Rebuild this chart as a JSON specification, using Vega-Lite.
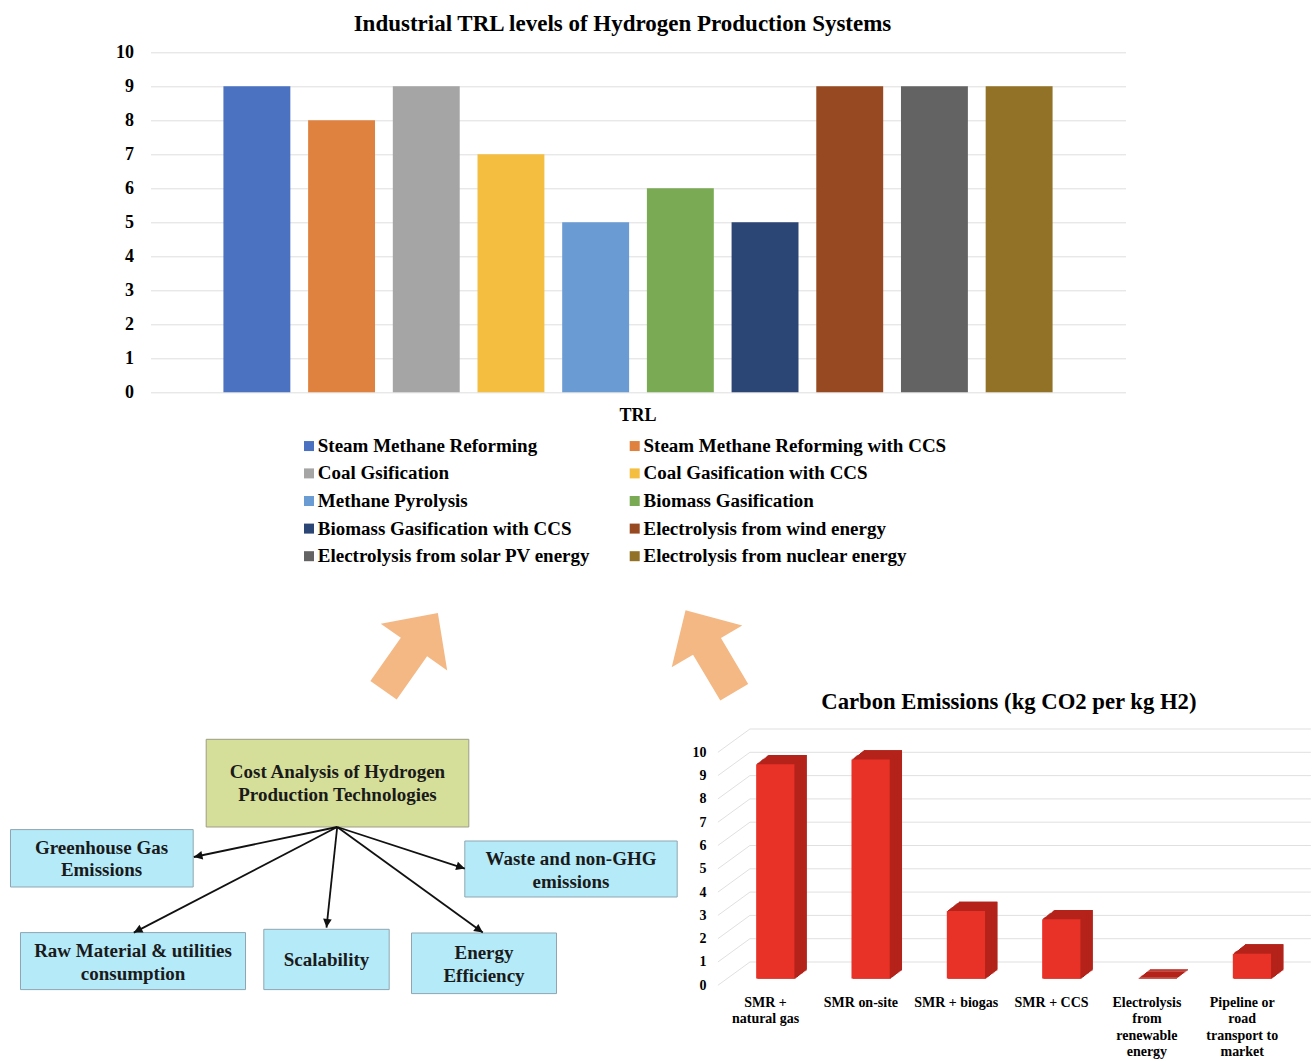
{
  "$schema": "https://vega.github.io/schema/vega-lite/v6.json",
  "background": "white",
  "padding": {"left": 9.5, "top": 12.3, "right": 0, "bottom": 0},
  "autosize": {"type": "pad"},
  "bounds": "flush",
  "spacing": 360,
  "config": {
    "font": "Liberation Serif",
    "view": {"stroke": null},
    "axis": {"labelFont": "Liberation Serif", "labelFontWeight": "bold", "labelColor": "#000000", "labelOverlap": false},
    "title": {"font": "Liberation Serif", "fontWeight": "bold", "color": "#000000"}
  },
  "vconcat": [
    {
      "width": 975,
      "height": 340,
      "title": {"text": "Industrial TRL levels of Hydrogen Production Systems", "fontSize": 23, "anchor": "middle", "dx": -15.5, "offset": -10.7, "baseline": "alphabetic"},
      "data": {"values": [
        {"measure": "TRL", "system": "Steam Methane Reforming", "trl": 9},
        {"measure": "TRL", "system": "Steam Methane Reforming with CCS", "trl": 8},
        {"measure": "TRL", "system": "Coal Gsification", "trl": 9},
        {"measure": "TRL", "system": "Coal Gasification with CCS", "trl": 7},
        {"measure": "TRL", "system": "Methane Pyrolysis", "trl": 5},
        {"measure": "TRL", "system": "Biomass Gasification", "trl": 6},
        {"measure": "TRL", "system": "Biomass Gasification with CCS", "trl": 5},
        {"measure": "TRL", "system": "Electrolysis from wind energy", "trl": 9},
        {"measure": "TRL", "system": "Electrolysis from solar PV energy", "trl": 9},
        {"measure": "TRL", "system": "Electrolysis from nuclear energy", "trl": 9}
      ]},
      "mark": {"type": "bar"},
      "encoding": {
        "x": {"field": "measure", "type": "nominal", "title": null,
              "scale": {"paddingInner": 0, "paddingOuter": 0.0756},
              "axis": {"labelAngle": 0, "labelFontSize": 18, "ticks": false, "domain": false, "grid": false, "labelPadding": 14}},
        "xOffset": {"field": "system", "type": "nominal", "sort": null,
                    "scale": {"paddingInner": 0.21, "paddingOuter": 0.105}},
        "y": {"field": "trl", "type": "quantitative", "title": null,
              "scale": {"domain": [0, 10], "nice": false},
              "axis": {"values": [0, 1, 2, 3, 4, 5, 6, 7, 8, 9, 10], "labelFontSize": 18, "ticks": false, "domain": false,
                       "grid": true, "gridColor": "#dedede", "gridWidth": 1, "labelPadding": 17}},
        "color": {"field": "system", "type": "nominal",
                  "scale": {
                    "domain": ["Steam Methane Reforming", "Steam Methane Reforming with CCS", "Coal Gsification", "Coal Gasification with CCS", "Methane Pyrolysis", "Biomass Gasification", "Biomass Gasification with CCS", "Electrolysis from wind energy", "Electrolysis from solar PV energy", "Electrolysis from nuclear energy"],
                    "range": ["#4a72c0", "#e0823f", "#a5a5a5", "#f4bf41", "#6a9bd2", "#7aaa54", "#2b4574", "#974a22", "#636363", "#927226"]
                  },
                  "legend": {"orient": "none", "legendX": 149, "legendY": 384, "columns": 2, "direction": "horizontal", "title": null,
                             "symbolType": "square", "symbolSize": 100, "symbolStrokeWidth": 0,
                             "labelFont": "Liberation Serif", "labelFontSize": 19, "labelFontWeight": "bold", "labelColor": "#000000",
                             "labelOffset": -0.7, "rowPadding": 7.6, "columnPadding": 34.7, "labelLimit": 400, "padding": 0}}
      }
    },
    {
      "bounds": "flush",
      "spacing": 7.4,
      "hconcat": [
        {
          "width": 560,
          "height": 250,
          "layer": [
            {
              "data": {"values": [{"cx": 40.02, "cy": 5.14}]},
              "mark": {"type": "point", "shape": "M0,-1L0.86,-0.12L0.34,-0.12L0.34,1L-0.34,1L-0.34,-0.12L-0.86,-0.12Z",
                       "size": 8930, "angle": 35.1, "filled": true, "fill": "#f4b884", "opacity": 1, "strokeWidth": 0},
              "encoding": {
                "x": {"field": "cx", "type": "quantitative", "axis": null, "scale": {"domain": [14, 70], "nice": false, "zero": false}},
                "y": {"field": "cy", "type": "quantitative", "axis": null, "scale": {"domain": [15.2, 40.2], "nice": false, "zero": false, "reverse": true}}
              }
            },
            {
              "data": {"values": [{"cx": 69.94, "cy": 5.1}]},
              "mark": {"type": "point", "shape": "M0,-1L0.86,-0.12L0.34,-0.12L0.34,1L-0.34,1L-0.34,-0.12L-0.86,-0.12Z",
                       "size": 9100, "angle": 329.3, "filled": true, "fill": "#f4b884", "opacity": 1, "strokeWidth": 0},
              "encoding": {
                "x": {"field": "cx", "type": "quantitative", "axis": null, "scale": {"domain": [14, 70], "nice": false, "zero": false}},
                "y": {"field": "cy", "type": "quantitative", "axis": null, "scale": {"domain": [15.2, 40.2], "nice": false, "zero": false, "reverse": true}}
              }
            },
            {
              "data": {"name": "nodes", "values": [
                {"node": "Cost Analysis of Hydrogen\nProduction Technologies", "role": "topic", "x1": 19.57, "x2": 45.83, "y1": 13.9, "y2": 22.67, "cx": 32.7, "cy": 18.3},
                {"node": "Greenhouse Gas\nEmissions", "role": "factor", "x1": 0, "x2": 18.27, "y1": 22.93, "y2": 28.67, "cx": 9.1, "cy": 25.87},
                {"node": "Waste and non-GHG\nemissions", "role": "factor", "x1": 45.43, "x2": 66.67, "y1": 24.07, "y2": 29.67, "cx": 56.05, "cy": 27.0},
                {"node": "Raw Material & utilities\nconsumption", "role": "factor", "x1": 1.0, "x2": 23.5, "y1": 33.23, "y2": 38.93, "cx": 12.25, "cy": 36.2},
                {"node": "Scalability", "role": "factor", "x1": 25.33, "x2": 37.87, "y1": 32.9, "y2": 38.93, "cx": 31.6, "cy": 35.93},
                {"node": "Energy\nEfficiency", "role": "factor", "x1": 40.1, "x2": 54.6, "y1": 33.27, "y2": 39.33, "cx": 47.35, "cy": 36.42}
              ]},
              "mark": {"type": "rect", "strokeWidth": 1, "opacity": 1},
              "encoding": {
                "x": {"field": "x1", "type": "quantitative", "axis": null, "scale": {"domain": [14, 70], "nice": false, "zero": false}},
                "x2": {"field": "x2"},
                "y": {"field": "y1", "type": "quantitative", "axis": null, "scale": {"domain": [15.2, 40.2], "nice": false, "zero": false, "reverse": true}},
                "y2": {"field": "y2"},
                "fill": {"field": "role", "type": "nominal", "legend": null, "scale": {"domain": ["topic", "factor"], "range": ["#d6df99", "#b5ebf9"]}},
                "stroke": {"field": "role", "type": "nominal", "legend": null, "scale": {"domain": ["topic", "factor"], "range": ["#9d9d86", "#8fa6b2"]}}
              }
            },
            {
              "data": {"name": "edges", "values": [
                {"to": "Greenhouse Gas Emissions", "sx": 32.67, "sy": 22.67, "tx": 18.33, "ty": 25.67},
                {"to": "Raw Material & utilities consumption", "sx": 32.67, "sy": 22.67, "tx": 12.33, "ty": 33.23},
                {"to": "Scalability", "sx": 32.67, "sy": 22.67, "tx": 31.6, "ty": 32.73},
                {"to": "Energy Efficiency", "sx": 32.67, "sy": 22.67, "tx": 47.23, "ty": 33.23},
                {"to": "Waste and non-GHG emissions", "sx": 32.67, "sy": 22.67, "tx": 45.43, "ty": 26.83}
              ]},
              "layer": [
                {
                  "mark": {"type": "rule", "color": "#111111", "strokeWidth": 1.8},
                  "encoding": {
                    "x": {"field": "sx", "type": "quantitative", "axis": null, "scale": {"domain": [14, 70], "nice": false, "zero": false}},
                    "x2": {"field": "tx"},
                    "y": {"field": "sy", "type": "quantitative", "axis": null, "scale": {"domain": [15.2, 40.2], "nice": false, "zero": false, "reverse": true}},
                    "y2": {"field": "ty"}
                  }
                },
                {
                  "mark": {"type": "point", "shape": "M0,0L-1,-0.5L-1,0.5Z", "size": 300, "filled": true, "color": "#111111", "opacity": 1, "strokeWidth": 0,
                           "angle": {"expr": "atan2(datum.ty - datum.sy, datum.tx - datum.sx) * 180 / PI"}},
                  "encoding": {
                    "x": {"field": "tx", "type": "quantitative", "axis": null, "scale": {"domain": [14, 70], "nice": false, "zero": false}},
                    "y": {"field": "ty", "type": "quantitative", "axis": null, "scale": {"domain": [15.2, 40.2], "nice": false, "zero": false, "reverse": true}}
                  }
                }
              ]
            },
            {
              "data": {"name": "nodes"},
              "transform": [{"filter": "indexof(datum.node, '\\n') >= 0"}],
              "mark": {"type": "text", "lineBreak": "\n", "lineHeight": 22.8, "fontSize": 19, "fontWeight": "bold", "font": "Liberation Serif",
                       "align": "center", "baseline": "middle", "dy": -11.4, "color": "#1a1a1a"},
              "encoding": {
                "x": {"field": "cx", "type": "quantitative", "axis": null, "scale": {"domain": [14, 70], "nice": false, "zero": false}},
                "y": {"field": "cy", "type": "quantitative", "axis": null, "scale": {"domain": [15.2, 40.2], "nice": false, "zero": false, "reverse": true}},
                "text": {"field": "node"}
              }
            },
            {
              "data": {"name": "nodes"},
              "transform": [{"filter": "indexof(datum.node, '\\n') < 0"}],
              "mark": {"type": "text", "fontSize": 19, "fontWeight": "bold", "font": "Liberation Serif",
                       "align": "center", "baseline": "middle", "color": "#1a1a1a"},
              "encoding": {
                "x": {"field": "cx", "type": "quantitative", "axis": null, "scale": {"domain": [14, 70], "nice": false, "zero": false}},
                "y": {"field": "cy", "type": "quantitative", "axis": null, "scale": {"domain": [15.2, 40.2], "nice": false, "zero": false, "reverse": true}},
                "text": {"field": "node"}
              }
            }
          ]
        },
        {
          "width": 572,
          "height": 233,
          "title": {"text": "Carbon Emissions (kg CO2 per kg H2)", "fontSize": 22.7, "anchor": "middle", "dx": 5, "offset": -3.3, "baseline": "alphabetic"},
          "layer": [
            {
              "data": {"name": "levels", "values": [{"v": 0}, {"v": 1}, {"v": 2}, {"v": 3}, {"v": 4}, {"v": 5}, {"v": 6}, {"v": 7}, {"v": 8}, {"v": 9}, {"v": 10}]},
              "mark": {"type": "rule", "color": "#e0e0e0", "strokeWidth": 1, "y2Offset": -23.3},
              "encoding": {
                "x": {"datum": "SMR + natural gas", "type": "nominal", "bandPosition": 0, "title": null,
                      "scale": {"domain": ["SMR + natural gas", "SMR on-site", "SMR + biogas", "SMR + CCS", "Electrolysis from renewable energy", "Pipeline or road transport to market"], "paddingInner": 0, "paddingOuter": 0},
                      "axis": {"labelAngle": 0, "ticks": false, "domain": false, "grid": false, "labelPadding": 10, "labelFontSize": 14, "labelLineHeight": 16.5,
                               "labelExpr": "datum.value == 'SMR + natural gas' ? ['SMR +', 'natural gas'] : datum.value == 'Electrolysis from renewable energy' ? ['Electrolysis', 'from', 'renewable', 'energy'] : datum.value == 'Pipeline or road transport to market' ? ['Pipeline or', 'road', 'transport to', 'market'] : datum.value"}},
                "x2": {"datum": "SMR + natural gas", "bandPosition": 0.336},
                "y": {"field": "v", "type": "quantitative", "title": null, "scale": {"domain": [0, 10], "nice": false},
                      "axis": {"values": [0, 1, 2, 3, 4, 5, 6, 7, 8, 9, 10], "ticks": false, "domain": false, "grid": false, "labelPadding": 12, "labelFontSize": 14}},
                "y2": {"field": "v"}
              }
            },
            {
              "data": {"name": "levels"},
              "mark": {"type": "rule", "color": "#e0e0e0", "strokeWidth": 1, "yOffset": -23.3},
              "encoding": {
                "x": {"datum": "SMR + natural gas", "type": "nominal", "bandPosition": 0.336, "title": null,
                      "scale": {"domain": ["SMR + natural gas", "SMR on-site", "SMR + biogas", "SMR + CCS", "Electrolysis from renewable energy", "Pipeline or road transport to market"], "paddingInner": 0, "paddingOuter": 0},
                      "axis": {"labelAngle": 0, "ticks": false, "domain": false, "grid": false, "labelPadding": 10, "labelFontSize": 14, "labelLineHeight": 16.5,
                               "labelExpr": "datum.value == 'SMR + natural gas' ? ['SMR +', 'natural gas'] : datum.value == 'Electrolysis from renewable energy' ? ['Electrolysis', 'from', 'renewable', 'energy'] : datum.value == 'Pipeline or road transport to market' ? ['Pipeline or', 'road', 'transport to', 'market'] : datum.value"}},
                "x2": {"datum": "Pipeline or road transport to market", "bandPosition": 1.22},
                "y": {"field": "v", "type": "quantitative", "title": null, "scale": {"domain": [0, 10], "nice": false},
                      "axis": {"values": [0, 1, 2, 3, 4, 5, 6, 7, 8, 9, 10], "ticks": false, "domain": false, "grid": false, "labelPadding": 12, "labelFontSize": 14}}
              }
            },
            {
              "data": {"name": "emissions", "values": [
                {"route": "SMR + natural gas", "co2": 9.2},
                {"route": "SMR on-site", "co2": 9.4},
                {"route": "SMR + biogas", "co2": 2.9},
                {"route": "SMR + CCS", "co2": 2.55},
                {"route": "Electrolysis from renewable energy", "co2": 0},
                {"route": "Pipeline or road transport to market", "co2": 1.07}
              ]},
              "encoding": {
                "x": {"field": "route", "type": "nominal", "title": null,
                      "scale": {"domain": ["SMR + natural gas", "SMR on-site", "SMR + biogas", "SMR + CCS", "Electrolysis from renewable energy", "Pipeline or road transport to market"], "paddingInner": 0, "paddingOuter": 0},
                      "axis": {"labelAngle": 0, "ticks": false, "domain": false, "grid": false, "labelPadding": 10, "labelFontSize": 14, "labelLineHeight": 16.5,
                               "labelExpr": "datum.value == 'SMR + natural gas' ? ['SMR +', 'natural gas'] : datum.value == 'Electrolysis from renewable energy' ? ['Electrolysis', 'from', 'renewable', 'energy'] : datum.value == 'Pipeline or road transport to market' ? ['Pipeline or', 'road', 'transport to', 'market'] : datum.value"}},
                "y": {"field": "co2", "type": "quantitative", "title": null, "scale": {"domain": [0, 10], "nice": false},
                      "axis": {"values": [0, 1, 2, 3, 4, 5, 6, 7, 8, 9, 10], "ticks": false, "domain": false, "grid": false, "labelPadding": 12, "labelFontSize": 14}},
                "y2": {"datum": 0}
              },
              "layer": [
                {"mark": {"type": "bar", "width": {"band": 0.401}, "color": "#9b1c13", "xOffset": 22.0, "x2Offset": 22.0, "yOffset": -16.0, "y2Offset": -16.0}},
                {"mark": {"type": "bar", "width": {"band": 0.401}, "color": "#9b1c13", "xOffset": 20.77, "x2Offset": 20.77, "yOffset": -15.07, "y2Offset": -15.07}},
                {"mark": {"type": "bar", "width": {"band": 0.401}, "color": "#9b1c13", "xOffset": 19.54, "x2Offset": 19.54, "yOffset": -14.14, "y2Offset": -14.14}},
                {"mark": {"type": "bar", "width": {"band": 0.401}, "color": "#9b1c13", "xOffset": 18.31, "x2Offset": 18.31, "yOffset": -13.21, "y2Offset": -13.21}},
                {"mark": {"type": "bar", "width": {"band": 0.401}, "color": "#9b1c13", "xOffset": 17.08, "x2Offset": 17.08, "yOffset": -12.28, "y2Offset": -12.28}},
                {"mark": {"type": "bar", "width": {"band": 0.401}, "color": "#9b1c13", "xOffset": 15.85, "x2Offset": 15.85, "yOffset": -11.35, "y2Offset": -11.35}},
                {"mark": {"type": "bar", "width": {"band": 0.401}, "color": "#9b1c13", "xOffset": 14.62, "x2Offset": 14.62, "yOffset": -10.42, "y2Offset": -10.42}},
                {"mark": {"type": "bar", "width": {"band": 0.401}, "color": "#9b1c13", "xOffset": 13.39, "x2Offset": 13.39, "yOffset": -9.49, "y2Offset": -9.49}},
                {"mark": {"type": "bar", "width": {"band": 0.401}, "color": "#9b1c13", "xOffset": 12.16, "x2Offset": 12.16, "yOffset": -8.56, "y2Offset": -8.56}},
                {"mark": {"type": "bar", "width": {"band": 0.401}, "color": "#9b1c13", "xOffset": 10.93, "x2Offset": 10.93, "yOffset": -7.63, "y2Offset": -7.63}},
                {"mark": {"type": "bar", "width": {"band": 0.401}, "color": "#b4231a", "xOffset": 22.0, "x2Offset": 22.0, "yOffset": -16.0, "y2Offset": -14.9}, "encoding": {"y2": {"field": "co2"}}},
                {"mark": {"type": "bar", "width": {"band": 0.401}, "color": "#b4231a", "xOffset": 20.77, "x2Offset": 20.77, "yOffset": -15.07, "y2Offset": -13.97}, "encoding": {"y2": {"field": "co2"}}},
                {"mark": {"type": "bar", "width": {"band": 0.401}, "color": "#b4231a", "xOffset": 19.54, "x2Offset": 19.54, "yOffset": -14.14, "y2Offset": -13.04}, "encoding": {"y2": {"field": "co2"}}},
                {"mark": {"type": "bar", "width": {"band": 0.401}, "color": "#b4231a", "xOffset": 18.31, "x2Offset": 18.31, "yOffset": -13.21, "y2Offset": -12.11}, "encoding": {"y2": {"field": "co2"}}},
                {"mark": {"type": "bar", "width": {"band": 0.401}, "color": "#b4231a", "xOffset": 17.08, "x2Offset": 17.08, "yOffset": -12.28, "y2Offset": -11.18}, "encoding": {"y2": {"field": "co2"}}},
                {"mark": {"type": "bar", "width": {"band": 0.401}, "color": "#b4231a", "xOffset": 15.85, "x2Offset": 15.85, "yOffset": -11.35, "y2Offset": -10.25}, "encoding": {"y2": {"field": "co2"}}},
                {"mark": {"type": "bar", "width": {"band": 0.401}, "color": "#b4231a", "xOffset": 14.62, "x2Offset": 14.62, "yOffset": -10.42, "y2Offset": -9.32}, "encoding": {"y2": {"field": "co2"}}},
                {"mark": {"type": "bar", "width": {"band": 0.401}, "color": "#b4231a", "xOffset": 13.39, "x2Offset": 13.39, "yOffset": -9.49, "y2Offset": -8.39}, "encoding": {"y2": {"field": "co2"}}},
                {"mark": {"type": "bar", "width": {"band": 0.401}, "color": "#b4231a", "xOffset": 12.16, "x2Offset": 12.16, "yOffset": -8.56, "y2Offset": -7.46}, "encoding": {"y2": {"field": "co2"}}},
                {"mark": {"type": "bar", "width": {"band": 0.401}, "color": "#b4231a", "xOffset": 10.93, "x2Offset": 10.93, "yOffset": -7.63, "y2Offset": -6.53}, "encoding": {"y2": {"field": "co2"}}},
                {"mark": {"type": "bar", "width": {"band": 0.401}, "color": "#e93227", "xOffset": 9.7, "x2Offset": 9.7, "yOffset": -6.7, "y2Offset": -6.7}}
              ]
            }
          ]
        }
      ]
    }
  ]
}
